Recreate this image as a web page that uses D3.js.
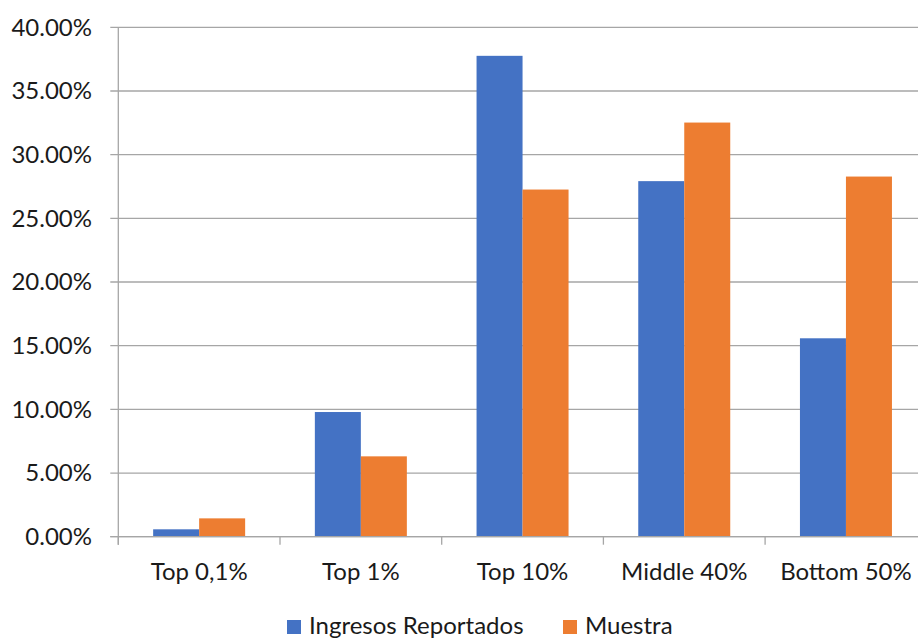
<!DOCTYPE html>
<html>
<head>
<meta charset="utf-8">
<script src="https://cdn.jsdelivr.net/npm/d3@7/dist/d3.min.js"></script>
<style>
  html, body { margin: 0; padding: 0; background: #fff; }
  svg { display: block; }
  text { font-family: Lato, "Open Sans", sans-serif; fill: #1a1a1a; }
</style>
</head>
<body>
<svg id="chart" width="918" height="639"></svg>
<script>
const categories = ["Top 0,1%", "Top 1%", "Top 10%", "Middle 40%", "Bottom 50%"];
const seriesNames = ["Ingresos Reportados", "Muestra"];
const ingresosReportados = [0.0058, 0.0979, 0.3776, 0.2792, 0.1558];
const muestra = [0.0144, 0.0631, 0.2726, 0.3252, 0.2828];
const yTicks = [0, 0.05, 0.10, 0.15, 0.20, 0.25, 0.30, 0.35, 0.40];
const colors = ["#4472C4", "#ED7D31"];

const svg = d3.select("#chart");
const plotLeft = 118.3, plotRight = 926.8, plotTop = 27.3, plotBottom = 536.7;
const fontSize = "24px";

const x = d3.scaleBand().domain(categories).range([plotLeft, plotRight]).paddingInner(0).paddingOuter(0);
const xs = d3.scaleBand().domain(seriesNames).range([0, x.bandwidth()]).paddingInner(0).paddingOuter(0.7577);
const y = d3.scaleLinear().domain([0, 0.40]).range([plotBottom, plotTop]);

const fmt = d => (d * 100).toFixed(2) + "%";

// gridlines
svg.append("g")
  .selectAll("line").data(yTicks).join("line")
  .attr("x1", plotLeft - 8).attr("x2", 918)
  .attr("y1", d => y(d)).attr("y2", d => y(d))
  .attr("stroke", "#a6a6a6").attr("stroke-width", 1.3);

// y axis line
svg.append("line")
  .attr("x1", plotLeft).attr("x2", plotLeft).attr("y1", plotTop).attr("y2", plotBottom + 8)
  .attr("stroke", "#a6a6a6").attr("stroke-width", 1.3);

// y labels
svg.append("g")
  .selectAll("text").data(yTicks).join("text")
  .attr("x", 92).attr("y", d => y(d))
  .attr("dy", "0.35em")
  .attr("text-anchor", "end")
  .style("font-size", fontSize)
  .text(fmt);

// bars
const data = categories.map((c, i) => ({ cat: c, vals: [ingresosReportados[i], muestra[i]] }));
const groups = svg.append("g").selectAll("g").data(data).join("g")
  .attr("transform", d => `translate(${x(d.cat)},0)`);
groups.selectAll("rect").data(d => d.vals.map((v, j) => ({ s: seriesNames[j], v, j })))
  .join("rect")
  .attr("x", d => xs(d.s))
  .attr("width", xs.bandwidth())
  .attr("y", d => y(d.v))
  .attr("height", d => y(0) - y(d.v))
  .attr("fill", d => colors[d.j]);

// x axis line + ticks
svg.append("line")
  .attr("x1", plotLeft - 8).attr("x2", 918).attr("y1", plotBottom).attr("y2", plotBottom)
  .attr("stroke", "#a6a6a6").attr("stroke-width", 1.3);
const boundaries = categories.map(c => x(c)).concat([plotRight]);
svg.append("g").selectAll("line").data(boundaries).join("line")
  .attr("x1", d => d).attr("x2", d => d)
  .attr("y1", plotBottom).attr("y2", plotBottom + 8)
  .attr("stroke", "#a6a6a6").attr("stroke-width", 1.3);

// x labels
svg.append("g").selectAll("text").data(categories).join("text")
  .attr("x", d => x(d) + x.bandwidth() / 2)
  .attr("y", 580)
  .attr("text-anchor", "middle")
  .style("font-size", fontSize)
  .text(d => d);

// legend
const legendItems = [
  { name: seriesNames[0], color: colors[0], sx: 287, tx: 309 },
  { name: seriesNames[1], color: colors[1], sx: 563, tx: 585 }
];
const lg = svg.append("g");
legendItems.forEach(it => {
  lg.append("rect").attr("x", it.sx).attr("y", 620).attr("width", 14).attr("height", 14).attr("fill", it.color);
  lg.append("text").attr("x", it.tx).attr("y", 634).style("font-size", fontSize).text(it.name);
});
</script>
</body>
</html>
